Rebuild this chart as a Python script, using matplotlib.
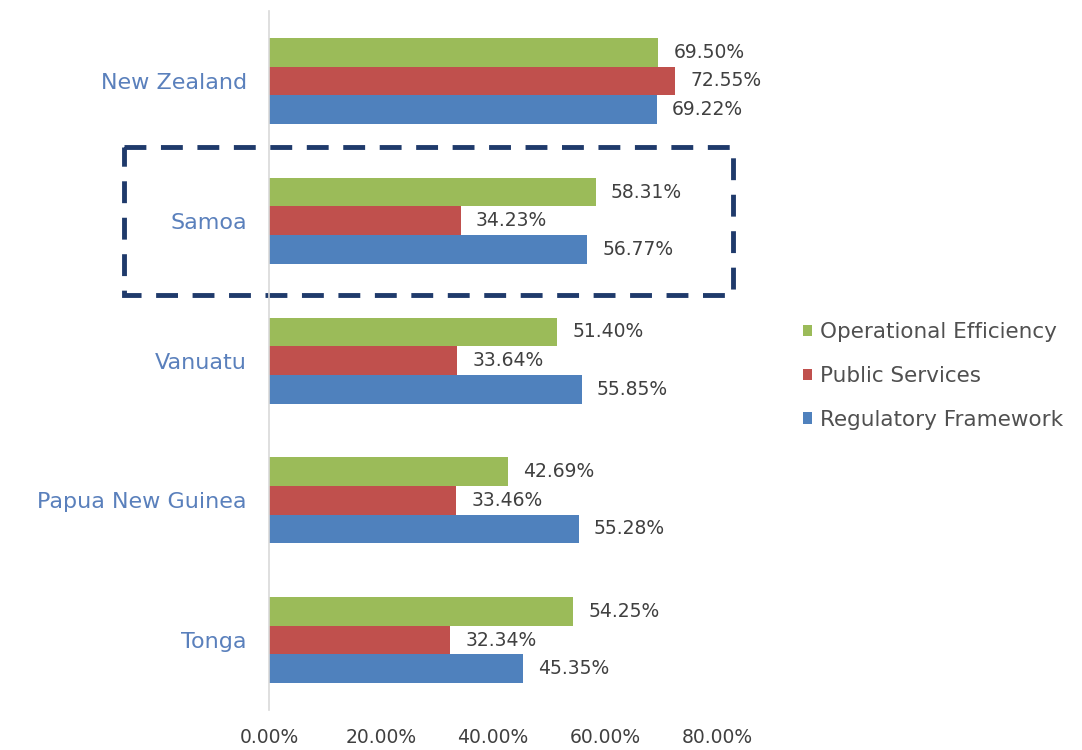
import matplotlib.pyplot as plt
import numpy as np
from matplotlib.patches import Patch, Rectangle

plt.rcParams['font.family'] = ['DejaVu Sans']

countries = ['New Zealand', 'Samoa', 'Vanuatu', 'Papua New Guinea', 'Tonga']
series_names = ['Operational Efficiency', 'Public Services', 'Regulatory Framework']
operational = [69.50, 58.31, 51.40, 42.69, 54.25]
public = [72.55, 34.23, 33.64, 33.46, 32.34]
regulatory = [69.22, 56.77, 55.85, 55.28, 45.35]
x_ticks = [0, 20, 40, 60, 80]

colors = ['#9BBB59', '#C0504D', '#4F81BD']

fig = plt.figure(figsize=(10.82, 7.5), dpi=100)
ax = fig.add_axes([0.2486, 0.0533, 0.4141, 0.9320])

y = np.arange(len(countries))
h = 0.205
for k, (vals, col, name) in enumerate(zip([operational, public, regulatory], colors, series_names)):
    pos = y + (k - 1) * h
    ax.barh(pos, vals, height=h, color=col, label=name)
    for p, v in zip(pos, vals):
        ax.annotate(f'{v:.2f}%', (v, p), xytext=(11, 0), textcoords='offset points',
                    va='center', ha='left', fontsize=13.5, color='#404040')

ax.set_xlim(0, 80)
ax.set_ylim(len(countries) - 0.5, -0.5)
ax.set_yticks(y)
ax.set_yticklabels(countries, fontsize=16, color='#5A80BC')
ax.set_xticks(x_ticks)
ax.set_xticklabels([f'{t:.2f}%' for t in x_ticks], fontsize=13.5, color='#404040')
ax.tick_params(axis='both', length=0)
ax.tick_params(axis='y', pad=16)
ax.tick_params(axis='x', pad=13)
for s in ['top', 'right', 'bottom']:
    ax.spines[s].set_visible(False)
ax.spines['left'].set_color('#D9D9D9')
ax.spines['left'].set_linewidth(1.2)

# dashed highlight around Samoa
box = Rectangle((-25.9, 0.47), 108.8, 1.06, fill=False, edgecolor='#1F3A6B',
                linewidth=3.5, linestyle=(0, (4.5, 3)), clip_on=False)
ax.add_patch(box)

handles = [Patch(facecolor=c, edgecolor='none') for c in colors]
fig.legend(handles, series_names, loc='center left', bbox_to_anchor=(0.724, 0.4987),
           frameon=False, fontsize=15.5, handlelength=0.45, handleheight=0.45,
           handletextpad=0.35, labelspacing=1.1, labelcolor='#505050')

fig.savefig('out.png', dpi=100)
